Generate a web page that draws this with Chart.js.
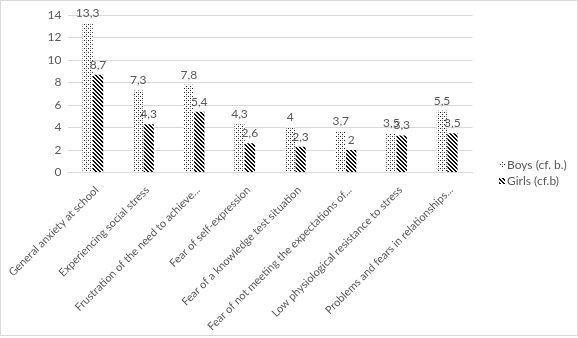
<!DOCTYPE html>
<html><head><meta charset="utf-8">
<script src="https://cdn.jsdelivr.net/npm/chart.js@4/dist/chart.umd.min.js"></script>
<style>html,body{margin:0;padding:0;background:#fff}#wrap{width:578px;height:338px}</style>
</head><body><div id="wrap"><canvas id="c" width="578" height="338"></canvas></div>
<script>
const categories = ["General anxiety at school","Experiencing social stress","Frustration of the need to achieve...","Fear of self-expression","Fear of a knowledge test situation","Fear of not meeting the expectations of...","Low physiological resistance to stress","Problems and fears in relationships..."];
const boysValues = [13.3,7.3,7.8,4.3,4,3.7,3.5,5.5];
const girlsValues = [8.7,4.3,5.4,2.6,2.3,2,3.3,3.5];
const seriesNames = ["Boys (cf. b.)","Girls (cf.b)"];
const yTicks = [0,2,4,6,8,10,12,14];

const FONT = "Lato, 'Liberation Sans', sans-serif";
const TXT = '#595959';

function makePattern(kind){
  const s = 4;
  const c = document.createElement('canvas'); c.width=s; c.height=s;
  const x = c.getContext('2d');
  x.fillStyle='#fff'; x.fillRect(0,0,s,s);
  if(kind==='dots'){
    x.fillStyle='#262626';
    x.fillRect(0,0,1,1); x.fillRect(2,2,1,1);
    x.fillStyle='#9a9a9a';
    x.fillRect(2,0,1,1);
  } else {
    x.fillStyle='#111';
    for(let i=0;i<s;i++)for(let j=0;j<s;j++){
      if((((i-j)%4)+4)%4<2) x.fillRect(i,j,1,1);
    }
  }
  return x.createPattern(c,'repeat');
}
const ctx = document.getElementById('c').getContext('2d');
const boysPat = makePattern('dots');
const girlsPat = makePattern('stripes');

const bgPlugin = {
  id:'bg',
  beforeDraw(chart){
    const g=chart.ctx; g.save(); g.fillStyle='#fff'; g.fillRect(0,0,chart.width,chart.height);
    g.strokeStyle='#d9d9d9'; g.lineWidth=1; g.strokeRect(0.5,0.5,chart.width-1,335); g.restore();
  }
};
const labelPlugin = {
  id:'vals',
  afterDatasetsDraw(chart){
    const g=chart.ctx; g.save();
    g.font='12px '+FONT; g.fillStyle=TXT; g.textAlign='center'; g.textBaseline='bottom';
    chart.data.datasets.forEach((ds,di)=>{
      chart.getDatasetMeta(di).data.forEach((bar,i)=>{
        g.fillText(String(ds.data[i]).replace('.',','), bar.x, bar.y-4);
      });
    });
    g.restore();
  }
};
const legendPlugin = {
  id:'lg',
  afterDraw(chart){
    const g=chart.ctx; g.save();
    g.font='12px '+FONT; g.textBaseline='middle'; g.textAlign='left';
    const ys=[165,181];
    chart.data.datasets.forEach((ds,i)=>{
      g.fillStyle=ds.backgroundColor; g.fillRect(499,ys[i]-3,6,6);
      g.fillStyle=TXT; g.fillText(ds.label,507,ys[i]);
    });
    g.restore();
  }
};

new Chart(ctx,{
  type:'bar',
  data:{labels:categories,datasets:[
    {label:seriesNames[0],data:boysValues,backgroundColor:boysPat,borderWidth:0},
    {label:seriesNames[1],data:girlsValues,backgroundColor:girlsPat,borderWidth:0}
  ]},
  options:{
    responsive:false,animation:false,
    layout:{padding:{left:0,right:105.5,top:15,bottom:0}},
    datasets:{bar:{categoryPercentage:0.41,barPercentage:1.0}},
    plugins:{legend:{display:false},tooltip:{enabled:false}},
    scales:{
      x:{
        grid:{display:false,drawTicks:false},
        border:{color:'#d9d9d9',width:1},
        ticks:{minRotation:45,maxRotation:45,autoSkip:false,padding:11,labelOffset:4,color:TXT,font:{family:FONT,size:11}},
        afterFit(s){s.height=165.5;s.paddingLeft=0;s.paddingRight=0;}
      },
      y:{
        min:0,max:14,
        afterBuildTicks(s){s.ticks=yTicks.map(v=>({value:v}));},
        grid:{color:'#d9d9d9',drawTicks:false},
        border:{display:false},
        ticks:{padding:6,color:TXT,font:{family:FONT,size:12}},
        afterFit(s){s.width=67.5;}
      }
    }
  },
  plugins:[bgPlugin,labelPlugin,legendPlugin]
});
</script></body></html>
